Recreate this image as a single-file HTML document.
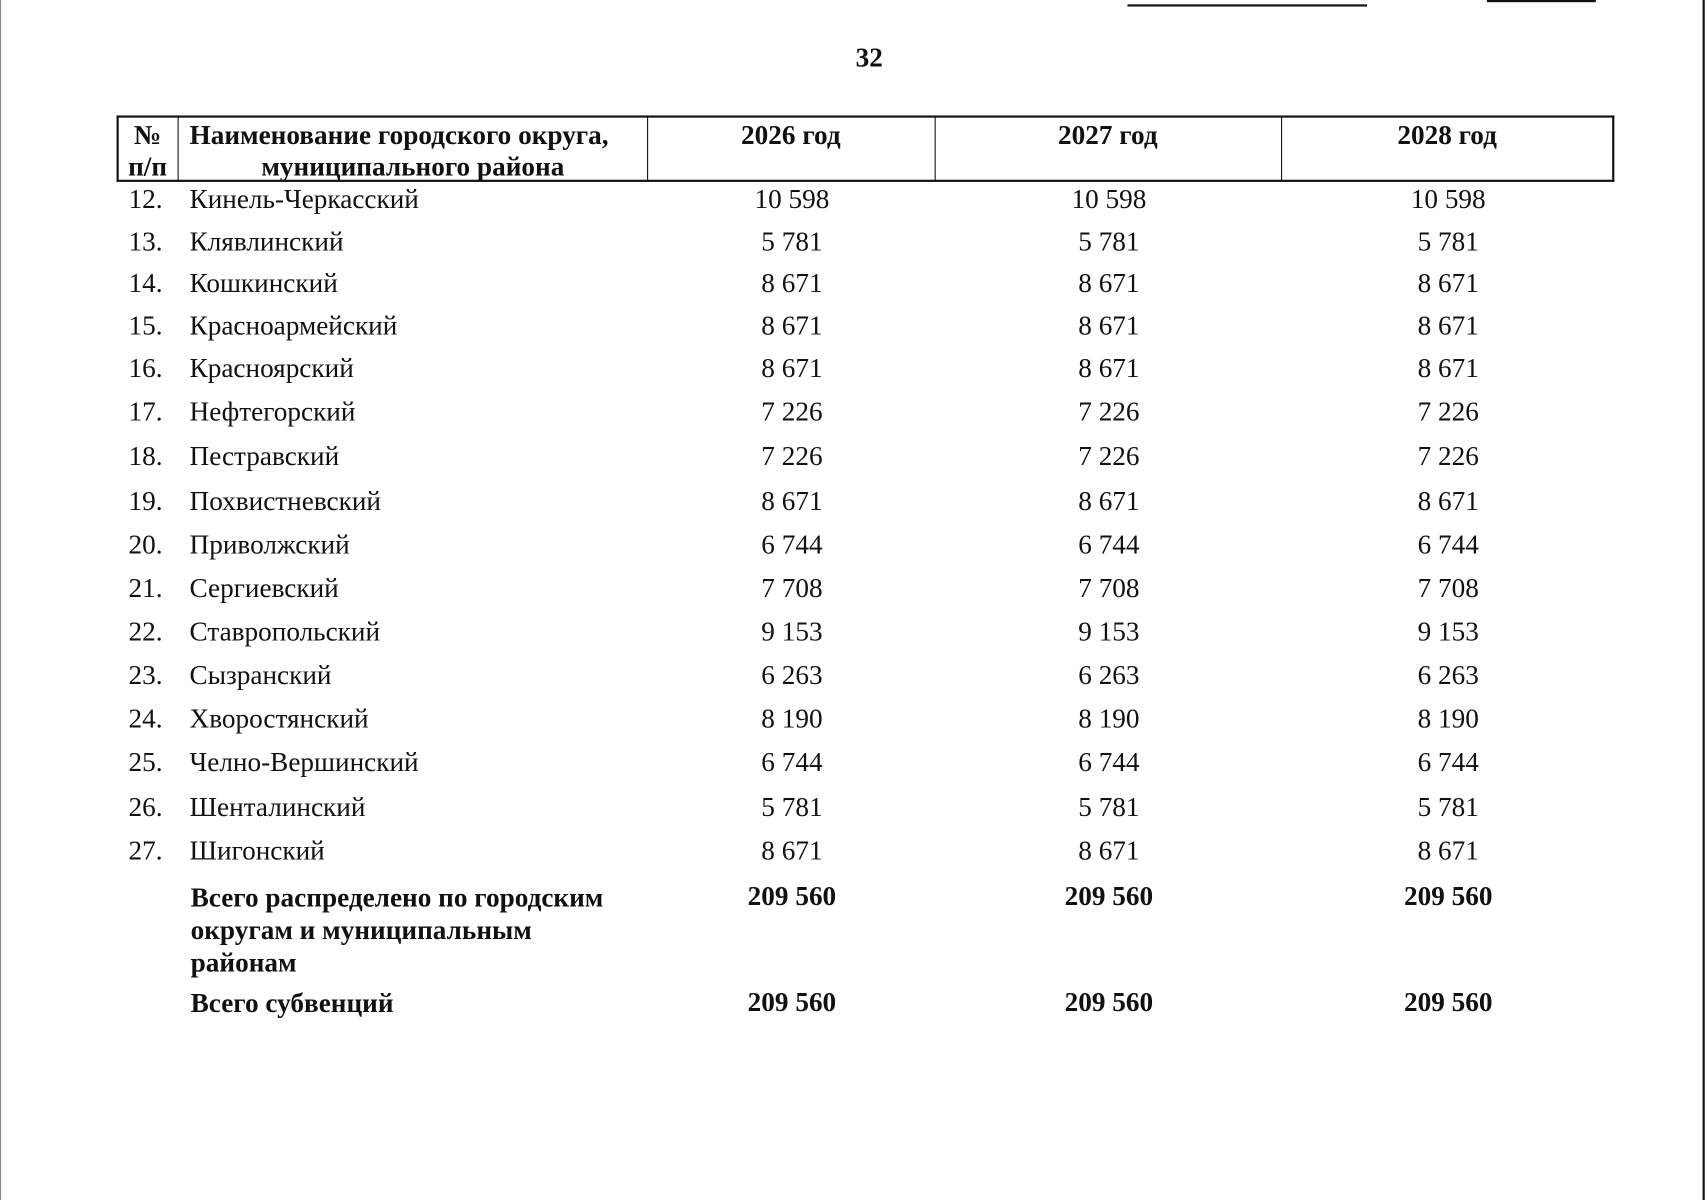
<!DOCTYPE html>
<html><head><meta charset="utf-8"><style>
html,body{margin:0;padding:0;background:#fff;}
body{width:1708px;height:1200px;overflow:hidden;position:relative;}
#p{position:absolute;left:0;top:0;width:1568px;height:1102px;transform:scale(1.0893);transform-origin:0 0;font-family:"Liberation Serif","Noto Serif CJK SC",serif;color:#111;}
.t{position:absolute;font-size:25px;line-height:28px;white-space:nowrap;}
.b{font-weight:bold;}
.c{text-align:center;}
.l{position:absolute;background:#111;}
</style></head><body><div id="p">
<div class="l" style="left:1563px;top:0;width:2px;height:1102px"></div>
<div class="l" style="left:0;top:0;width:1px;height:1102px;background:#888"></div>
<div class="l" style="left:1035px;top:4px;width:220px;height:2px"></div>
<div class="l" style="left:1365px;top:0;width:100px;height:2px"></div>
<div class="t b c" style="left:758px;width:80px;top:40px">32</div>
<div class="l" style="left:107px;top:106px;width:1375px;height:2px"></div>
<div class="l" style="left:107px;top:165px;width:1375px;height:2px"></div>
<div class="l" style="left:107px;top:106px;width:2px;height:61px"></div>
<div class="l" style="left:1480px;top:106px;width:2px;height:61px"></div>
<div class="l" style="left:163px;top:106px;width:1px;height:61px"></div>
<div class="l" style="left:594px;top:106px;width:1px;height:61px"></div>
<div class="l" style="left:858px;top:106px;width:1px;height:61px"></div>
<div class="l" style="left:1176px;top:106px;width:1px;height:61px"></div>
<div class="t b c" style="left:108px;width:55px;top:111px">№</div>
<div class="t b c" style="left:108px;width:55px;top:140px">п/п</div>
<div class="t b" style="left:174px;top:111px">Наименование городского округа,</div>
<div class="t b c" style="left:164px;width:430px;top:140px">муниципального района</div>
<div class="t b c" style="left:594px;width:264px;top:111px">2026 год</div>
<div class="t b c" style="left:858px;width:318px;top:111px">2027 год</div>
<div class="t b c" style="left:1176px;width:305px;top:111px">2028 год</div>
<div id="rows"></div>
<script>
var d=[["12.","Кинель-Черкасский","10 598",183],["13.","Клявлинский","5 781",222],["14.","Кошкинский","8 671",260],["15.","Красноармейский","8 671",299],["16.","Красноярский","8 671",338],["17.","Нефтегорский","7 226",378],["18.","Пестравский","7 226",419],["19.","Похвистневский","8 671",460],["20.","Приволжский","6 744",500],["21.","Сергиевский","7 708",540],["22.","Ставропольский","9 153",580],["23.","Сызранский","6 263",620],["24.","Хворостянский","8 190",660],["25.","Челно-Вершинский","6 744",700],["26.","Шенталинский","5 781",741],["27.","Шигонский","8 671",781]];
var h="";
d.forEach(function(r){var t=r[3]-13;
h+='<div class="t" style="left:118px;top:'+t+'px">'+r[0]+'</div><div class="t" style="left:174px;top:'+t+'px">'+r[1]+'</div>';
h+='<div class="t c" style="left:594px;width:266px;top:'+t+'px">'+r[2]+'</div><div class="t c" style="left:858px;width:320px;top:'+t+'px">'+r[2]+'</div><div class="t c" style="left:1176px;width:307px;top:'+t+'px">'+r[2]+'</div>';});
[[810,"Всего распределено по городским<br>округам и муниципальным<br>районам"],[907,"Всего субвенций"]].forEach(function(r){
h+='<div class="t b" style="left:175px;top:'+r[0]+'px;line-height:30px">'+r[1]+'</div>';
h+='<div class="t b c" style="left:594px;width:266px;top:'+r[0]+'px">209 560</div><div class="t b c" style="left:858px;width:320px;top:'+r[0]+'px">209 560</div><div class="t b c" style="left:1176px;width:307px;top:'+r[0]+'px">209 560</div>';});
document.getElementById("rows").innerHTML=h;
</script>
</div></body></html>
